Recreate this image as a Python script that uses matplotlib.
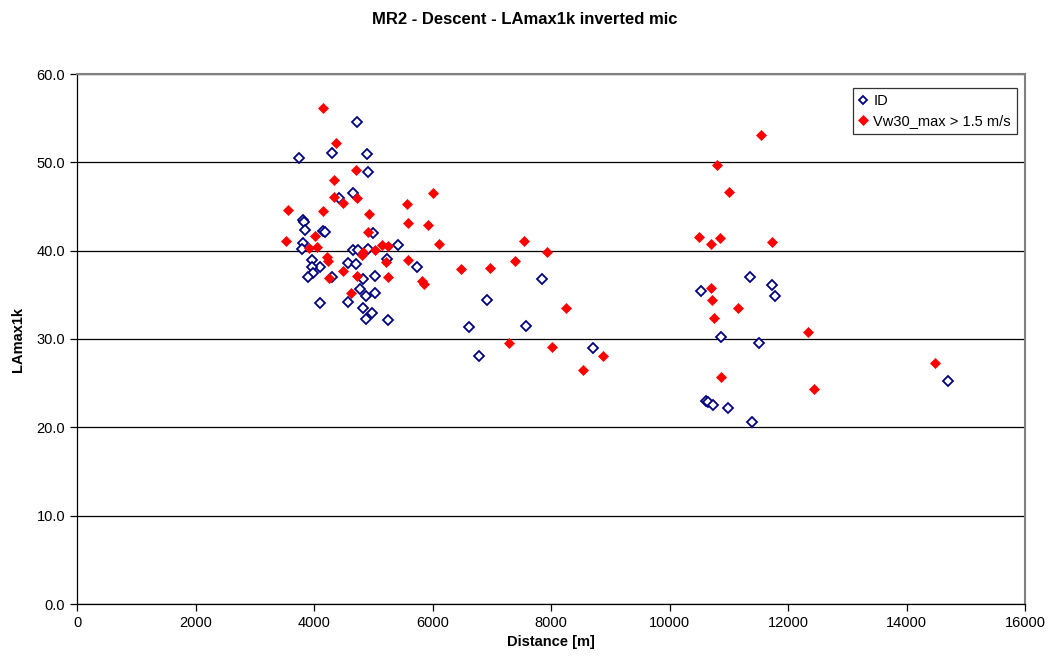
import numpy as np
import matplotlib.pyplot as plt

plt.rcParams['font.family'] = ['Liberation Sans', 'DejaVu Sans']

# ID series (open navy diamonds)
id_dist = [3750, 4730, 4300, 4890, 4910, 4660, 4420, 3810, 3830, 3850,
           4150, 4190, 5000, 3810, 3800, 4660, 4740, 4910, 5420, 3970,
           4100, 3970, 3980, 3900, 4300, 4570, 4710, 5230, 5740, 4830,
           5030, 4780, 4880, 5030, 4100, 4570, 4830, 4980, 4880, 5250,
           6620, 7850, 6920, 7580, 6790, 8710, 11360, 10530, 11730, 11780,
           10870, 11510, 10620, 10650, 10730, 10990, 11390, 14700]
id_lamax = [50.5, 54.6, 51.1, 50.9, 48.9, 46.5, 46.0, 43.5, 43.2, 42.3,
            42.2, 42.1, 42.0, 40.9, 40.2, 40.1, 40.1, 40.2, 40.6, 38.9,
            38.2, 38.2, 37.5, 37.0, 37.0, 38.6, 38.5, 39.1, 38.2, 36.8,
            37.1, 35.7, 34.9, 35.2, 34.1, 34.2, 33.5, 32.9, 32.3, 32.2,
            31.4, 36.8, 34.4, 31.5, 28.1, 29.0, 37.0, 35.4, 36.1, 34.9,
            30.2, 29.5, 23.0, 22.9, 22.5, 22.2, 20.6, 25.2]

# Vw30_max > 1.5 m/s series (filled red diamonds)
vw_dist = [4150, 4370, 4710, 4340, 4340, 4490, 4730, 6010, 3560, 4150,
           5570, 4930, 5590, 5920, 4910, 4020, 3530, 3920, 4050, 4220,
           4240, 4490, 4250, 4730, 4830, 4810, 5030, 5150, 5250, 5220,
           5590, 5250, 5820, 5860, 6110, 4630, 7540, 7930, 6480, 6970,
           7390, 8250, 7290, 8020, 8880, 8540, 11550, 10800, 11000, 10500,
           10700, 10850, 11730, 10700, 10720, 11160, 10750, 12340, 10870, 12440,
           14480]
vw_lamax = [56.2, 52.2, 49.1, 48.0, 46.1, 45.4, 46.0, 46.5, 44.6, 44.5,
            45.3, 44.2, 43.1, 42.9, 42.1, 41.7, 41.1, 40.3, 40.4, 39.3,
            38.8, 37.7, 36.9, 37.1, 39.9, 39.5, 40.1, 40.6, 40.5, 38.7,
            38.9, 37.0, 36.6, 36.2, 40.8, 35.2, 41.1, 39.9, 37.9, 38.0,
            38.8, 33.5, 29.5, 29.1, 28.1, 26.5, 53.1, 49.7, 46.6, 41.5,
            40.8, 41.4, 41.0, 35.8, 34.4, 33.5, 32.4, 30.8, 25.7, 24.3,
            27.3]

fig = plt.figure(figsize=(10.5, 6.64), dpi=100)
ax = fig.add_axes([77/1050, 60/664, 948/1050, 530/664])

ax.plot(id_dist, id_lamax, linestyle='none', marker='D', markersize=4.6,
        markerfacecolor='white', markeredgecolor='#000080', markeredgewidth=1.3,
        label='ID', zorder=3)
ax.plot(vw_dist, vw_lamax, linestyle='none', marker='D', markersize=5.4,
        markerfacecolor='#ff0000', markeredgecolor='#ff0000', markeredgewidth=0.5,
        label='Vw30_max > 1.5 m/s', zorder=4)

ax.set_xlim(0, 16000)
ax.set_ylim(0, 60)
ax.set_xticks(np.arange(0, 16001, 2000))
ax.set_yticks(np.arange(0, 60.1, 10))
ax.set_yticklabels(['%.1f' % v for v in np.arange(0, 60.1, 10)])
ax.yaxis.grid(True, color='black', linewidth=0.9)
ax.set_axisbelow(True)

for s in ['top', 'right']:
    ax.spines[s].set_color('#808080')
    ax.spines[s].set_linewidth(1.5)
for s in ['left', 'bottom']:
    ax.spines[s].set_color('black')
    ax.spines[s].set_linewidth(0.9)

ax.tick_params(axis='both', labelsize=10.5, direction='out', length=5, width=0.9)

ax.set_xlabel('Distance [m]', fontsize=10.5, fontweight='bold', labelpad=4)
ax.set_ylabel('LAmax1k', fontsize=10.5, fontweight='bold', labelpad=8)
fig.suptitle('MR2 - Descent - LAmax1k inverted mic', fontsize=12, fontweight='bold', y=0.982)

leg = ax.legend(loc='upper right', bbox_to_anchor=(0.996, 0.982), frameon=True, fancybox=False,
                fontsize=10.5, handlelength=0.6, handletextpad=0.4, borderpad=0.4,
                labelspacing=0.45, borderaxespad=0.3, markerscale=0.85)
leg.get_frame().set_edgecolor('black')
leg.get_frame().set_linewidth(0.9)

fig.savefig('out.png', dpi=100)
